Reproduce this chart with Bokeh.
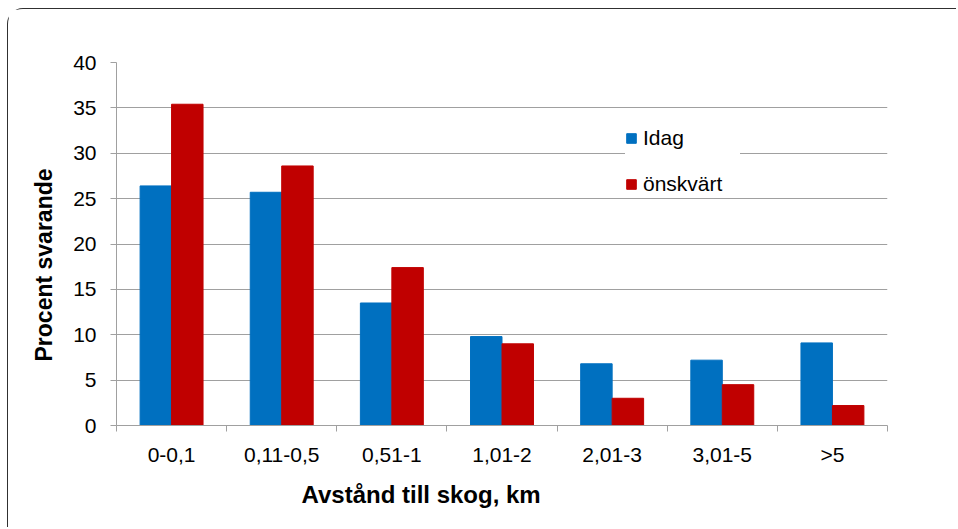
from bokeh.plotting import figure
from bokeh.models import ColumnDataSource, FixedTicker, Legend, LegendItem, Range1d, Title
from bokeh.embed import file_html
from bokeh.resources import INLINE

categories = ["0-0,1", "0,11-0,5", "0,51-1", "1,01-2", "2,01-3", "3,01-5", ">5"]
idag = [26.4, 25.7, 13.5, 9.8, 6.8, 7.2, 9.1]
onskvart = [35.4, 28.6, 17.4, 9.0, 3.0, 4.5, 2.2]
y_ticks = [0, 5, 10, 15, 20, 25, 30, 35, 40]
series_names = ["Idag", "önskvärt"]
x_title = "Avstånd till skog, km"
y_title = "Procent svarande"

BLUE = "#0070C0"
RED = "#C00000"
GRID = "#a0a0a0"
FONT = "Liberation Sans"

pos = list(range(1, len(categories) + 1))
bw = 1.0 / 3.5
src = ColumnDataSource(dict(
    x1=[q - bw / 2 for q in pos],
    x2=[q + bw / 2 for q in pos],
    idag=idag,
    onsk=onskvart,
))

p = figure(width=949, height=519, output_backend="svg", toolbar_location=None,
           x_range=Range1d(0.5, len(categories) + 0.5), y_range=Range1d(0, 40),
           min_border_left=108, min_border_right=70, min_border_top=53, min_border_bottom=103)
p.styles = {"margin-left": "7px", "margin-top": "8px",
            "border-top": "1.5px solid #303030", "border-left": "1.5px solid #303030",
            "border-top-left-radius": "16px"}

r1 = p.vbar(x="x1", top="idag", width=bw, source=src, fill_color=BLUE, line_color=BLUE)
r2 = p.vbar(x="x2", top="onsk", width=bw, source=src, fill_color=RED, line_color=RED)

p.outline_line_color = None
p.xgrid.grid_line_color = None
p.ygrid.grid_line_color = GRID
p.ygrid.grid_line_width = 1

# x axis: labels at category centers, ticks at boundaries
p.xaxis.ticker = FixedTicker(ticks=pos, minor_ticks=[q - 0.5 for q in pos] + [pos[-1] + 0.5])
p.xaxis.major_label_overrides = {q: c for q, c in zip(pos, categories)}
p.xaxis.major_tick_out = 0
p.xaxis.major_tick_in = 0
p.xaxis.minor_tick_out = 6
p.xaxis.minor_tick_in = 0
p.xaxis.minor_tick_line_color = GRID
p.xaxis.axis_line_color = GRID
p.xaxis.major_label_standoff = 11
p.xaxis.major_label_text_font = FONT
p.xaxis.major_label_text_font_size = "21px"
p.xaxis.major_label_text_color = "#000000"

p.yaxis.ticker = FixedTicker(ticks=y_ticks)
p.yaxis.major_tick_out = 6
p.yaxis.major_tick_in = 0
p.yaxis.minor_tick_line_color = None
p.yaxis.major_tick_line_color = GRID
p.yaxis.axis_line_color = GRID
p.yaxis.major_label_standoff = 14
p.yaxis.major_label_text_font = FONT
p.yaxis.major_label_text_font_size = "21px"
p.yaxis.major_label_text_color = "#000000"

legend = Legend(items=[LegendItem(label=series_names[0], renderers=[r1]),
                       LegendItem(label=series_names[1], renderers=[r2])],
                location=(509, 229), orientation="vertical",
                glyph_width=12, glyph_height=12, label_height=24, label_width=97, spacing=22,
                padding=12, label_standoff=6,
                label_text_font=FONT, label_text_font_size="21px", label_text_color="#000000",
                background_fill_color="white", background_fill_alpha=1.0,
                border_line_color=None, margin=0)
p.add_layout(legend, "center")

xt = Title(text=x_title, align="left", offset=185, standoff=20,
           text_font=FONT, text_font_size="24px", text_font_style="bold", text_color="#000000")
p.add_layout(xt, "below")
yt = Title(text=y_title, align="left", offset=64, standoff=27,
           text_font=FONT, text_font_size="23px", text_font_style="bold", text_color="#000000")
p.add_layout(yt, "left")

open("out.html", "w").write(file_html(p, INLINE))
